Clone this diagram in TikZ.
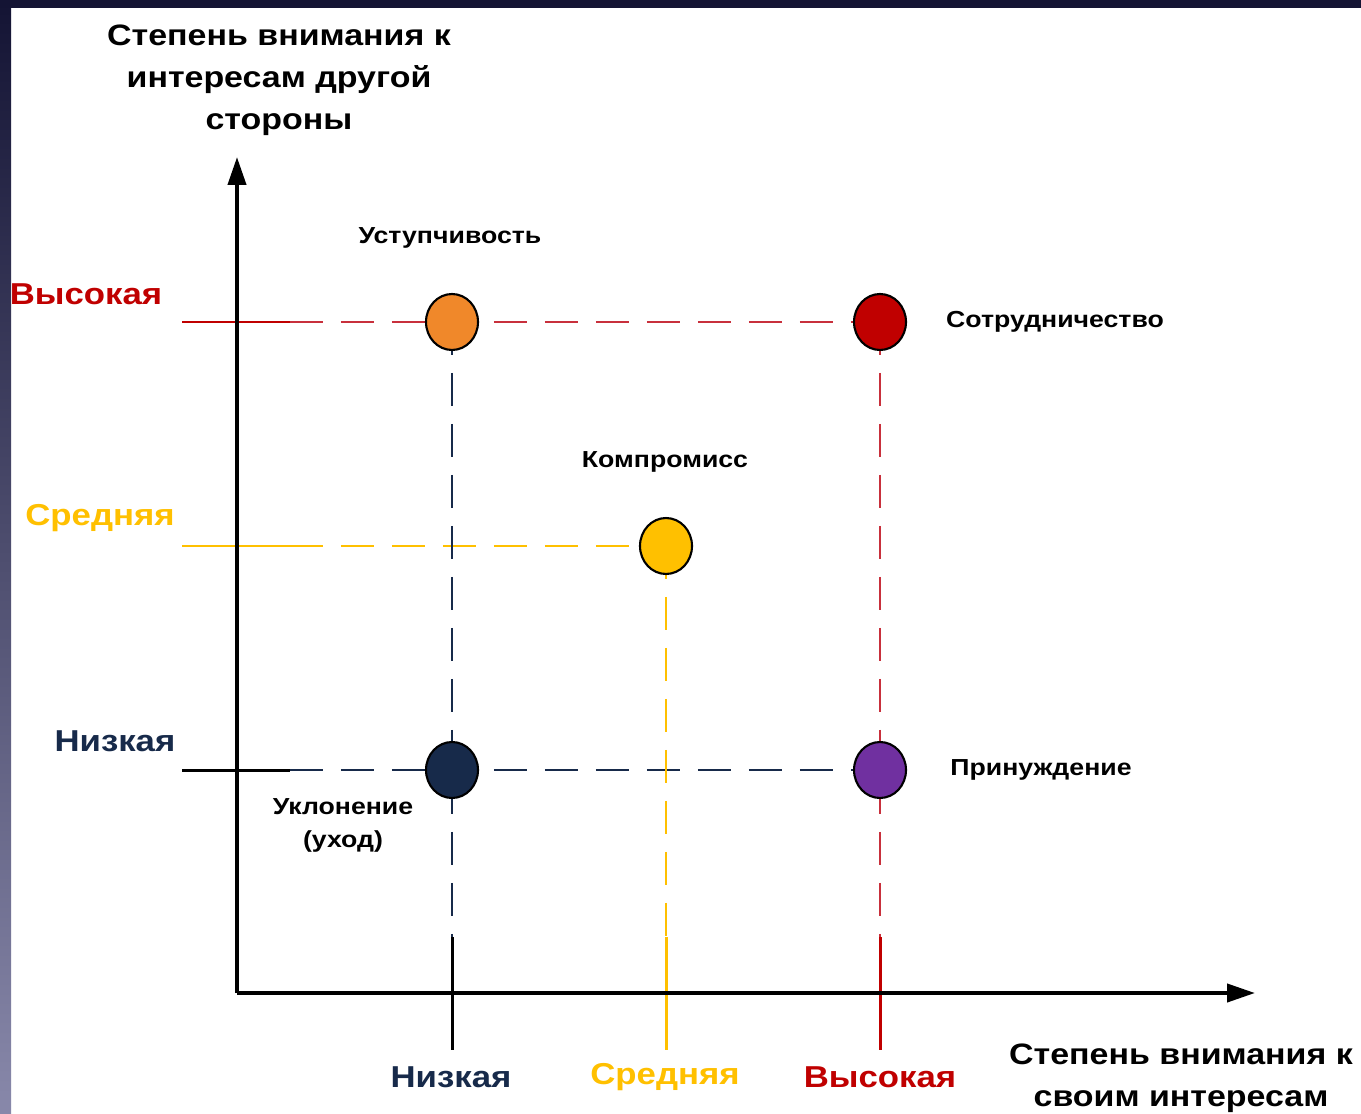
\documentclass[tikz,border=0pt]{standalone}
\usepackage{fontspec}
\setmainfont[FakeStretch=1.15]{Liberation Sans}
\usetikzlibrary{arrows.meta,shapes.geometric}
\definecolor{cred}{HTML}{C00000}
\definecolor{cdash}{HTML}{C8303C}
\definecolor{cyel}{HTML}{FFC000}
\definecolor{cnavy}{HTML}{172A4A}
\definecolor{corange}{HTML}{F0882A}
\definecolor{cpurple}{HTML}{7030A0}
\definecolor{bgdark}{HTML}{141434}
\definecolor{bglight}{HTML}{8888AA}
\begin{document}
\begin{tikzpicture}[x=0.02cm,y=-0.02cm,
  axis/.style={line width=2.3pt,-{Triangle[length=0.56cm,width=0.36cm]}},
  tickline/.style={line width=1.7pt},
  dashline/.style={line width=1.2pt,dash pattern=on 0.66cm off 0.36cm},
  dot/.style={ellipse,draw=black,line width=1.2pt,minimum width=1.04cm,minimum height=1.12cm,inner sep=0pt},
  ttl/.style={font=\bfseries\fontsize{16.8pt}{23.8pt}\selectfont,align=center},
  lbl/.style={font=\bfseries\fontsize{13.2pt}{18.7pt}\selectfont,align=center},
  lvl/.style={font=\bfseries\fontsize{17.2pt}{20pt}\selectfont}]
% background
\useasboundingbox (0,0) rectangle (1361,1114);
\fill[white] (0,0) rectangle (1361,1114);
\shade[top color=bgdark,bottom color=bglight] (0,0) rectangle (11,1114);
\fill[bgdark] (0,0) rectangle (1361,8);
% coordinates
\coordinate (O) at (237,993);
\coordinate (ytip) at (237,157);
\coordinate (xtip) at (1255,993);
\coordinate (cU) at (452,322);
\coordinate (cS) at (880,322);
\coordinate (cK) at (666,546);
\coordinate (cN) at (452,770);
\coordinate (cP) at (880,770);
\coordinate (hH0) at (182,322); \coordinate (hH1) at (290,322);
\coordinate (hM0) at (182,546); \coordinate (hM1) at (290,546);
\coordinate (hL0) at (182,770); \coordinate (hL1) at (290,770);
\coordinate (vL0) at (452,937); \coordinate (vL1) at (452,1050);
\coordinate (vM0) at (666,937); \coordinate (vM1) at (666,1050);
\coordinate (vH0) at (880,937); \coordinate (vH1) at (880,1050);
% dashed guide lines
\draw[dashline,cdash] (hH1) -- (cS);
\draw[dashline,cyel] (hM1) -- (cK);
\draw[dashline,cnavy] (hL1) -- (cP);
\draw[dashline,cnavy] (cU) -- (vL0);
\draw[dashline,cyel] (cK) -- (vM0);
\draw[dashline,cdash] (cS) -- (vH0);
% solid ticks
\draw[tickline,cred] (hH0) -- (hH1);
\draw[tickline,cyel] (hM0) -- (hM1);
\draw[tickline,black] (hL0) -- (hL1);
\draw[tickline,black] (vL0) -- (vL1);
\draw[tickline,cyel] (vM0) -- (vM1);
\draw[tickline,cred] (vH0) -- (vH1);
% axes
\draw[axis] (O) -- (ytip);
\draw[axis] (O) -- (xtip);
% dots
\node[dot,fill=corange] (dU) at (cU) {};
\node[dot,fill=cred] (dS) at (cS) {};
\node[dot,fill=cyel] (dK) at (cK) {};
\node[dot,fill=cnavy] (dN) at (cN) {};
\node[dot,fill=cpurple] (dP) at (cP) {};
% labels
\node[ttl] (ty) at (279,80) {Степень внимания к\\интересам другой\\стороны};
\node[ttl] (tx) at (1181,1078) {Степень внимания к\\своим интересам};
\node[lbl] (lU) at (450,238) {Уступчивость};
\node[lbl] (lS) at (1055,322) {Сотрудничество};
\node[lbl] (lK) at (665,462) {Компромисс};
\node[lbl] (lP) at (1041,770) {Принуждение};
\node[lbl] (lN) at (343,825) {Уклонение\\(уход)};
\node[lvl,text=cred] (yH) at (86,294) {Высокая};
\node[lvl,text=cyel] (yM) at (100,518) {Средняя};
\node[lvl,text=cnavy] (yL) at (115,741) {Низкая};
\node[lvl,text=cnavy] (xL) at (451,1077) {Низкая};
\node[lvl,text=cyel] (xM) at (665,1077) {Средняя};
\node[lvl,text=cred] (xH) at (880,1077) {Высокая};
\end{tikzpicture}
\end{document}
